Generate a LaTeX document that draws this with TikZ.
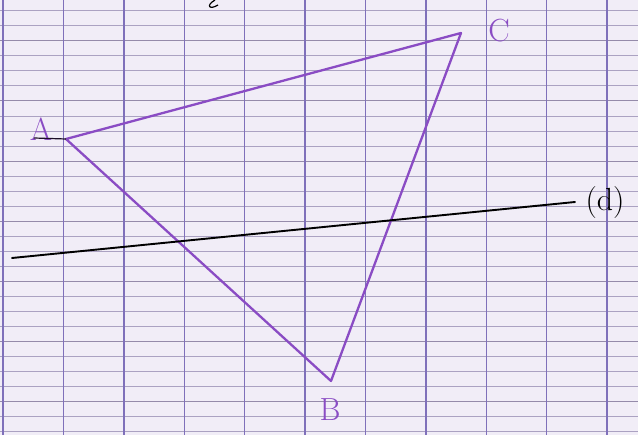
\documentclass[tikz,border=0pt]{standalone}
\usepackage{amsmath,amssymb}
\usepackage{tikz}

\definecolor{paper}{HTML}{F1EDF7}
\definecolor{vline}{HTML}{7F70BA}
\definecolor{hline}{HTML}{ABA2C2}
\definecolor{hbold}{HTML}{958BAA}
\definecolor{ink}{HTML}{8A4CC4}

\begin{document}
\begin{tikzpicture}[x=1pt,y=-1pt]
    % paper
    \fill[paper] (0,0) rectangle (638,435);
    \useasboundingbox (0,0) rectangle (638,435);
    \foreach \k in {0,...,28}
      \draw[hline, line width=0.8pt] (0,{10.7+15.03*\k}) -- (638,{10.7+15.03*\k});
    \foreach \k in {0,...,6}
      \draw[hbold, line width=0.9pt] (0,{40.8+60.1*\k}) -- (638,{40.8+60.1*\k});
    \foreach \k in {0,...,10}
      \draw[vline, line width=1.4pt] ({3+60.4*\k},0) -- ({3+60.4*\k},435);

    % triangle
    \coordinate (A) at (66,139);
    \coordinate (B) at (331,381);
    \coordinate (C) at (461,33);
    \draw[ink, line width=2.3pt, line join=round] (A) -- (B) -- (C) -- cycle;

    % line (d)
    \coordinate (d1) at (12,258);
    \coordinate (d2) at (575,202);
    \draw[black, line width=1.9pt, line cap=round] (d1) -- (d2);

    \node[ink, font=\fontsize{32}{32}\selectfont] (labA) at (41,129) {A};
    \node[ink, font=\fontsize{32}{32}\selectfont] (labB) at (330,410) {B};
    \node[ink, font=\fontsize{32}{32}\selectfont] (labC) at (499,31) {C};
    \node[black, font=\fontsize{32}{32}\selectfont] (labd) at (605,203) {(d)};
    \coordinate (tail) at (34,138);
    \draw[black!80!ink, line width=1.2pt] (tail) -- (A);

    % cut-off stroke at the top
    \draw[black, line width=1.2pt] (215,0) .. controls (205,6) and (210,10) .. (218,5);
\end{tikzpicture}
\end{document}
